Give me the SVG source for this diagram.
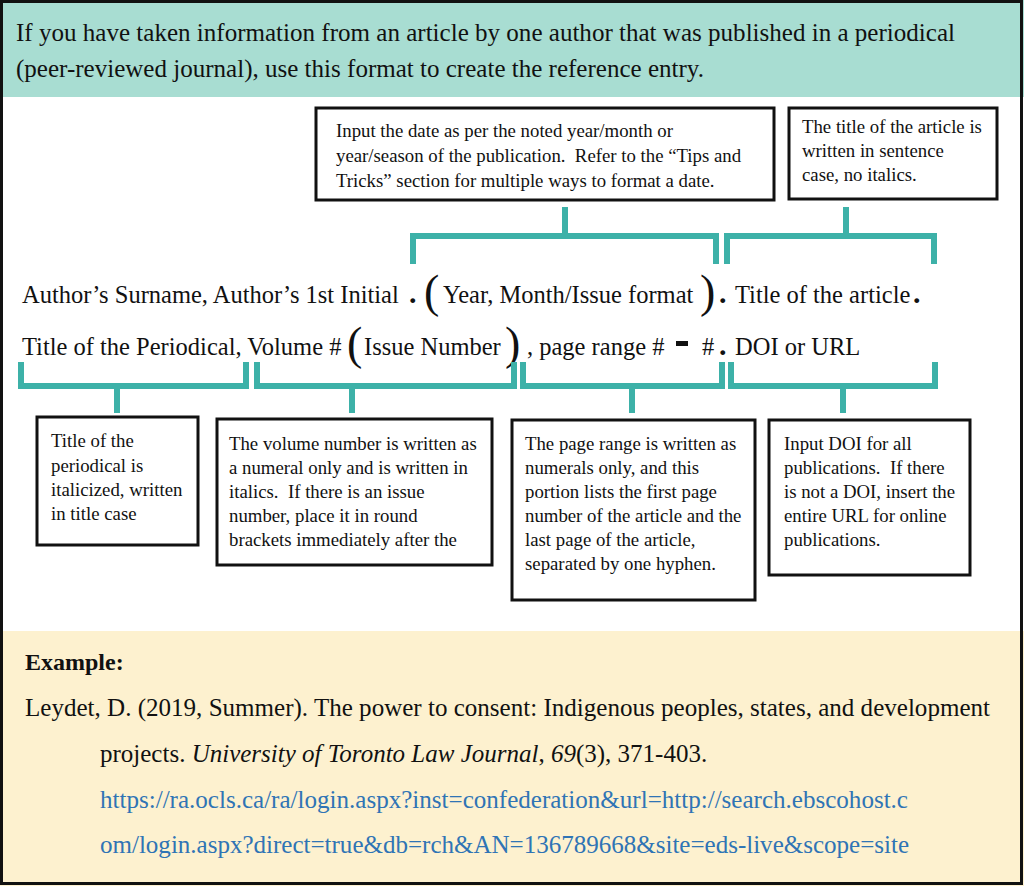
<svg xmlns="http://www.w3.org/2000/svg" width="1024" height="886" viewBox="0 0 1024 886">
<style>
text{font-family:"Liberation Serif","Times New Roman",serif;fill:#111;}
.hd{font-size:25px;}
.main{font-size:24.5px;}
.note{font-size:18.8px;}
.ex{font-size:25px;}
.url{font-size:25px;fill:#2f74b5;}
.box{fill:#fff;stroke:#111;stroke-width:3;}
.br{fill:none;stroke:#3db1a8;stroke-width:6;stroke-linecap:butt;stroke-linejoin:miter;}
.big{font-size:46px;}
.dot{font-size:30px;font-weight:bold;}
</style>
<rect x="0" y="0" width="1024" height="886" fill="#fff"/>
<g id="header">
<rect x="0" y="0" width="1024" height="97" fill="#a8ddd2"/>
<text class="hd" x="16" y="41" textLength="939" lengthAdjust="spacingAndGlyphs">If you have taken information from an article by one author that was published in a periodical</text>
<text class="hd" x="16" y="77" textLength="688" lengthAdjust="spacingAndGlyphs">(peer-reviewed journal), use this format to create the reference entry.</text>
</g>
<g id="example">
<rect x="0" y="631" width="1024" height="255" fill="#fdf1cf"/>
<text x="25" y="670" font-weight="bold" style="font-size:24px">Example:</text>
<text class="ex" x="25" y="716" textLength="965" lengthAdjust="spacingAndGlyphs">Leydet, D. (2019, Summer). The power to consent: Indigenous peoples, states, and development</text>
<text class="ex" x="100" y="762">projects. <tspan font-style="italic">University of Toronto Law Journal</tspan>, <tspan font-style="italic">69</tspan>(3), 371-403.</text>
<text class="url" x="100" y="808" textLength="808" lengthAdjust="spacingAndGlyphs">https://ra.ocls.ca/ra/login.aspx?inst=confederation&amp;url=http://search.ebscohost.c</text>
<text class="url" x="100" y="853" textLength="809" lengthAdjust="spacingAndGlyphs">om/login.aspx?direct=true&amp;db=rch&amp;AN=136789668&amp;site=eds-live&amp;scope=site</text>
</g>
<g id="format-line1">
<text class="main" x="22" y="303">Author’s Surname, Author’s 1st Initial</text>
<text class="dot" x="409" y="303">.</text>
<text class="big" x="424" y="307">(</text>
<text class="main" x="443" y="303">Year, Month/Issue format</text>
<text class="big" x="700" y="307">)</text>
<text class="dot" x="719" y="303">.</text>
<text class="main" x="735" y="303">Title of the article</text>
<text class="dot" x="913" y="303">.</text>
</g>
<g id="format-line2">
<text class="main" x="22" y="355">Title of the Periodical, Volume #</text>
<text class="big" x="347" y="359">(</text>
<text class="main" x="364" y="355">Issue Number</text>
<text class="big" x="505" y="359">)</text>
<text class="main" x="527" y="355">, page range #</text>
<rect x="676" y="341" width="12" height="5" fill="#111"/>
<text class="main" x="702" y="355">#</text>
<text class="dot" x="719" y="355">.</text>
<text class="main" x="735" y="355">DOI or URL</text>
</g>
<g id="connectors">
<path class="br" d="M413 264 V236 H716 V264 M565 236 V207"/>
<path class="br" d="M727 264 V236 H934 V264 M846 236 V207"/>
<path class="br" d="M21 362 V386 H246 V362 M117 386 V413"/>
<path class="br" d="M257 362 V386 H514 V362 M352 386 V413"/>
<path class="br" d="M523 362 V386 H722 V362 M632 386 V413"/>
<path class="br" d="M731 362 V386 H935 V362 M843 386 V413"/>
</g>
<g id="note-date">
<rect class="box" x="316" y="108" width="458" height="92"/>
<text class="note" x="336" y="137" xml:space="preserve">Input the date as per the noted year/month or</text>
<text class="note" x="336" y="162" xml:space="preserve">year/season of the publication.  Refer to the “Tips and</text>
<text class="note" x="336" y="187" xml:space="preserve">Tricks” section for multiple ways to format a date.</text>
</g>
<g id="note-title">
<rect class="box" x="789" y="108" width="208" height="91"/>
<text class="note" x="802" y="133">The title of the article is</text>
<text class="note" x="802" y="157">written in sentence</text>
<text class="note" x="802" y="181">case, no italics.</text>
</g>
<g id="note-periodical">
<rect class="box" x="37" y="417" width="161" height="128"/>
<text class="note" x="51" y="447">Title of the</text>
<text class="note" x="51" y="472">periodical is</text>
<text class="note" x="51" y="496">italicized, written</text>
<text class="note" x="51" y="520">in title case</text>
</g>
<g id="note-volume">
<rect class="box" x="217" y="419" width="275" height="146"/>
<text class="note" x="229" y="450">The volume number is written as</text>
<text class="note" x="229" y="474">a numeral only and is written in</text>
<text class="note" x="229" y="498" xml:space="preserve">italics.  If there is an issue</text>
<text class="note" x="229" y="522">number, place it in round</text>
<text class="note" x="229" y="546">brackets immediately after the</text>
</g>
<g id="note-pages">
<rect class="box" x="512" y="420" width="243" height="180"/>
<text class="note" x="525" y="450">The page range is written as</text>
<text class="note" x="525" y="474">numerals only, and this</text>
<text class="note" x="525" y="498">portion lists the first page</text>
<text class="note" x="525" y="522">number of the article and the</text>
<text class="note" x="525" y="546">last page of the article,</text>
<text class="note" x="525" y="570">separated by one hyphen.</text>
</g>
<g id="note-doi">
<rect class="box" x="769" y="420" width="201" height="155"/>
<text class="note" x="784" y="450">Input DOI for all</text>
<text class="note" x="784" y="474" xml:space="preserve">publications.  If there</text>
<text class="note" x="784" y="498">is not a DOI, insert the</text>
<text class="note" x="784" y="522">entire URL for online</text>
<text class="note" x="784" y="546">publications.</text>
</g>
<rect x="1.5" y="1.5" width="1020" height="882" fill="none" stroke="#111" stroke-width="3"/>
</svg>
